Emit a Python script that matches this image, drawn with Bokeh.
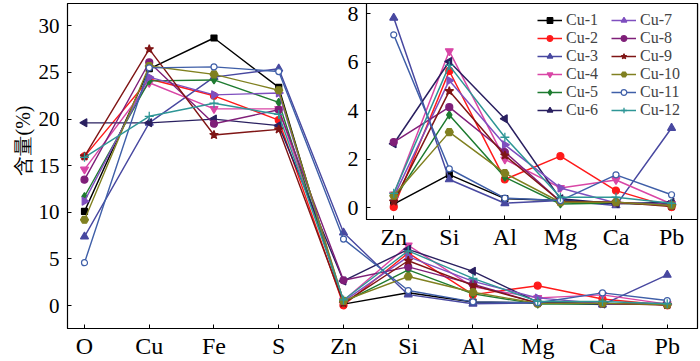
import numpy as np
from bokeh.plotting import figure
from bokeh.layouts import column
from bokeh.models import Range1d, FixedTicker, Legend, LegendItem, Title
from bokeh.embed import file_html
from bokeh.resources import INLINE

elements = ["O", "Cu", "Fe", "S", "Zn", "Si", "Al", "Mg", "Ca", "Pb"]
inset_elements = ["Zn", "Si", "Al", "Mg", "Ca", "Pb"]
y_ticks_main = [0, 5, 10, 15, 20, 25, 30]
y_ticks_inset = [0, 2, 4, 6, 8]
y_title = "含量(%)"

names = ["Cu-1", "Cu-2", "Cu-3", "Cu-4", "Cu-5", "Cu-6",
         "Cu-7", "Cu-8", "Cu-9", "Cu-10", "Cu-11", "Cu-12"]

cu1 = [10.1, 25.4, 28.7, 23.4, 0.15, 1.37, 0.38, 0.30, 0.19, 0.16]
cu2 = [16.0, 24.3, 22.5, 19.9, 0.03, 5.64, 1.17, 2.13, 0.71, 0.03]
cu3 = [7.4, 19.6, 24.5, 25.4, 7.83, 1.17, 0.19, 0.30, 0.10, 3.29]
cu4 = [14.6, 23.9, 21.1, 21.1, 0.55, 6.46, 2.00, 0.82, 1.15, 0.16]
cu5 = [11.7, 24.1, 24.2, 21.8, 0.33, 3.83, 1.26, 0.16, 0.20, 0.12]
cu6 = [19.6, 19.6, 20.0, 19.3, 2.64, 6.03, 3.67, 0.37, 0.17, 0.23]
cu7 = [11.2, 24.5, 22.6, 22.8, 0.45, 5.25, 2.60, 0.82, 0.20, 0.14]
cu8 = [13.5, 26.1, 19.5, 21.0, 2.71, 4.15, 2.30, 0.26, 0.23, 0.10]
cu9 = [16.0, 27.5, 18.3, 18.9, 0.26, 4.81, 2.16, 0.26, 0.23, 0.06]
cu10 = [9.2, 25.7, 24.8, 23.1, 0.50, 3.12, 1.43, 0.23, 0.23, 0.10]
cu11 = [4.6, 25.5, 25.6, 25.1, 7.13, 1.61, 0.40, 0.30, 1.36, 0.54]
cu12 = [15.9, 20.3, 21.7, 20.5, 0.60, 5.87, 2.91, 0.44, 0.44, 0.19]
series = [cu1, cu2, cu3, cu4, cu5, cu6, cu7, cu8, cu9, cu10, cu11, cu12]

colors = ["#000000", "#FF1A1A", "#4848A0", "#D946A6", "#1E7B30", "#2A2060",
          "#7F4FBF", "#7F1F78", "#7F1515", "#808020", "#3F5FA8", "#2E9696"]
markers = ["square", "circle", "triangle", "inverted_triangle", "diamond", "triangle",
           "triangle", "circle", "star", "hex", "circle", "cross"]
angles = [0, 0, 0, 0, 0, np.pi / 2, -np.pi / 2, 0, 0, 0, 0, 0]
sizes = [6, 7, 8, 8, 8, 8, 8, 7, 9, 8, 6, 9]

SERIF = "Liberation Serif"

BL, BR, BT, BB = 67, 3, 3, 33

# ---------------- main plot ----------------
p = figure(width=700, height=361, output_backend="svg", toolbar_location=None,
           x_range=Range1d(-0.2625, 9.4675), y_range=Range1d(-2.46, 32.4),
           min_border_left=BL, min_border_right=BR, min_border_top=BT, min_border_bottom=BB)
p.outline_line_color = "black"
p.outline_line_width = 1.2
p.grid.visible = False
p.background_fill_color = "white"

xi = list(range(len(elements)))
for s, c, m, a, sz in zip(series, colors, markers, angles, sizes):
    p.line(xi, s, line_color=c, line_width=1.4)
    fill = "white" if c == "#3F5FA8" else c
    p.scatter(xi, s, marker=m, angle=a, size=sz, fill_color=fill, line_color=c,
              line_width=1.3 if m in ("cross", "star") else 1.2)

p.xaxis.ticker = FixedTicker(ticks=xi)
p.xaxis.major_label_overrides = {i: e for i, e in enumerate(elements)}
p.yaxis.ticker = FixedTicker(ticks=y_ticks_main)
for ax in (p.xaxis[0], p.yaxis[0]):
    ax.axis_line_color = "black"
    ax.major_tick_in = 4
    ax.major_tick_out = 0
    ax.minor_tick_line_color = None
    ax.major_label_text_font = SERIF
    ax.major_label_text_color = "black"
p.xaxis.major_label_standoff = 4
p.xaxis.major_label_text_font_size = "24px"
p.yaxis.major_label_text_font_size = "21px"
p.yaxis.major_label_standoff = 8

# y-axis title, on the left side, a bit above the frame centre as in the original
p.add_layout(Title(text=y_title, align="left", offset=153, standoff=4,
                   text_font=SERIF, text_font_size="20px", text_font_style="normal",
                   text_color="black"), "left")

# ---------------- inset ----------------
q = figure(width=401, height=252, output_backend="svg", toolbar_location=None,
           x_range=Range1d(-0.49, 5.467), y_range=Range1d(-0.48, 8.42),
           min_border_left=BL, min_border_right=BR, min_border_top=BT, min_border_bottom=BB)
q.outline_line_color = "black"
q.outline_line_width = 1.2
q.grid.visible = False
q.background_fill_color = "white"
q.border_fill_color = None
q.margin = (-361, 0, 0, 299)

xj = list(range(len(inset_elements)))
items = []
for name, s, c, m, a, sz in zip(names, series, colors, markers, angles, sizes):
    vals = s[4:]
    r1 = q.line(xj, vals, line_color=c, line_width=1.5)
    fill = "white" if c == "#3F5FA8" else c
    r2 = q.scatter(xj, vals, marker=m, angle=a, size=sz, fill_color=fill, line_color=c,
                   line_width=1.3 if m in ("cross", "star") else 1.2)
    items.append(LegendItem(label=name, renderers=[r1, r2]))

q.xaxis.ticker = FixedTicker(ticks=xj)
q.xaxis.major_label_overrides = {i: e for i, e in enumerate(inset_elements)}
q.yaxis.ticker = FixedTicker(ticks=y_ticks_inset)
for ax in (q.xaxis[0], q.yaxis[0]):
    ax.axis_line_color = "black"
    ax.major_tick_in = 4
    ax.major_tick_out = 0
    ax.minor_tick_line_color = None
    ax.major_label_text_font = SERIF
    ax.major_label_text_color = "black"
q.xaxis.major_label_text_font_size = "24px"
q.xaxis.major_label_standoff = 4
q.yaxis.major_label_text_font_size = "22px"
q.yaxis.major_label_standoff = 8

legend = Legend(items=items, location=(171, 100), ncols=2, nrows=6,
                orientation="vertical",
                label_text_font=SERIF, label_text_font_size="16px",
                label_text_line_height=1.0,
                glyph_width=25, glyph_height=14, label_height=14, label_width=45,
                label_standoff=4, spacing=0, padding=0, margin=0,
                border_line_color=None, background_fill_alpha=0)
q.add_layout(legend)

layout = column(p, q)
open("out.html", "w").write(file_html(layout, INLINE))
